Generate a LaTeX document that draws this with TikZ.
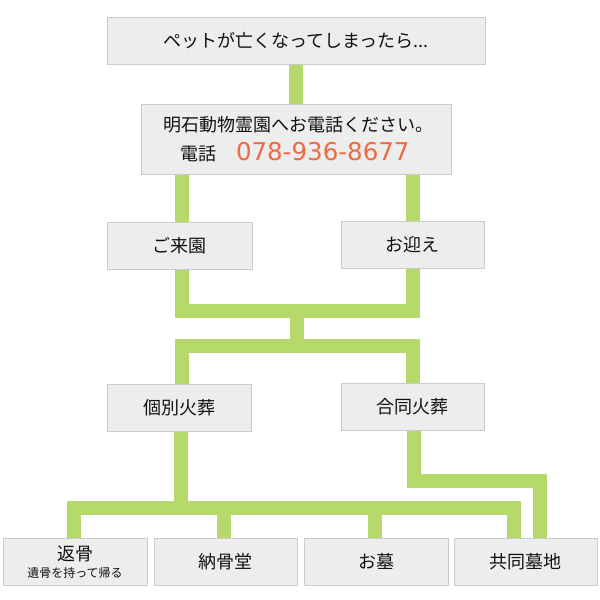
\documentclass[tikz,border=0pt]{standalone}
\usepackage{fontspec}
\newfontfamily\jp{Noto Sans CJK JP}
\newfontfamily\numfont{DejaVu Sans}
\usetikzlibrary{backgrounds}
\definecolor{conncol}{HTML}{B6D96C}
\definecolor{boxfill}{HTML}{EDEDED}
\definecolor{boxline}{HTML}{CCCCCC}
\definecolor{phonecol}{HTML}{EE6A45}
\definecolor{txtcol}{HTML}{111111}
\begin{document}
\begin{tikzpicture}[x=1pt,y=-1pt,
  box/.style={draw=boxline, fill=boxfill, line width=1pt, minimum width=144pt,
    minimum height=47pt, inner sep=0pt, outer sep=0pt, text=txtcol,
    font=\jp\fontsize{18}{20}\selectfont},
  lbl/.style={inner sep=0pt, outer sep=0pt, text=txtcol, font=\jp\fontsize{18}{20}\selectfont},
  small/.style={inner sep=0pt, outer sep=0pt, text=txtcol, font=\jp\fontsize{12}{14}\selectfont},
  link/.style={draw=conncol, line width=14pt}]
\useasboundingbox (0,0) rectangle (600,600);

% boxes
\node[box, minimum width=378pt] (top) at (296,40.5) {ペットが亡くなってしまったら...};
\node[box, minimum width=310pt, minimum height=70pt] (phone) at (296,139) {};
\node[lbl] (line1) at (298,124.5) {明石動物霊園へお電話ください。};
\node[lbl] (tel) at (198.5,153.5) {電話};
\node[lbl, anchor=west, text=phonecol, font=\numfont\fontsize{24.5}{26}\selectfont] (num) at (236,151.5) {078-936-8677};

\node[box, minimum width=145pt] (raien) at (179.5,245.5) {ご来園};
\node[box, minimum width=143pt] (mukae) at (412.5,244.5) {お迎え};
\node[box] (kobetsu) at (179,407.5) {個別火葬};
\node[box, minimum width=143pt] (goudou) at (412.5,406.5) {合同火葬};

\node[box] (henkotsu) at (75,561.5) {};
\node[lbl] (hen1) at (75,554) {返骨};
\node[small] (hen2) at (75,573) {遺骨を持って帰る};
\node[box, minimum width=143pt] (noukotsu) at (225.5,561.5) {納骨堂};
\node[box] (ohaka) at (376,561.5) {お墓};
\node[box, minimum width=143pt] (kyoudou) at (525.5,561.5) {共同墓地};

% connector guide points
\coordinate (cL) at (182,0);
\coordinate (cR) at (413,0);
\coordinate (m1) at (297,310.5);
\coordinate (m2) at (297,346);
\coordinate (m3) at (181,508);
\coordinate (m4) at (414,481);
\coordinate (b1) at (74,0);
\coordinate (b2) at (224,0);
\coordinate (b3) at (375,0);
\coordinate (b4) at (514,0);
\coordinate (g2) at (540,0);

\begin{scope}[on background layer]
\draw[link] (top.south) -- (phone.north);
\draw[link] (phone.south -| cL) -- (raien.north -| cL);
\draw[link] (phone.south -| cR) -- (mukae.north -| cR);
\draw[link] (raien.south -| cL) |- (m1) -| (mukae.south -| cR);
\draw[link] (m1) -- (m2);
\draw[link] (kobetsu.north -| cL) |- (m2) -| (goudou.north -| cR);
\draw[link] (kobetsu.south -| m3) -- (m3);
\draw[link] (henkotsu.north -| b1) |- (m3) -| (kyoudou.north -| b4);
\draw[link] (noukotsu.north -| b2) -- (b2 |- m3);
\draw[link] (ohaka.north -| b3) -- (b3 |- m3);
\draw[link] (goudou.south -| m4) -- (m4) -| (kyoudou.north -| g2);
\end{scope}
\end{tikzpicture}
\end{document}
